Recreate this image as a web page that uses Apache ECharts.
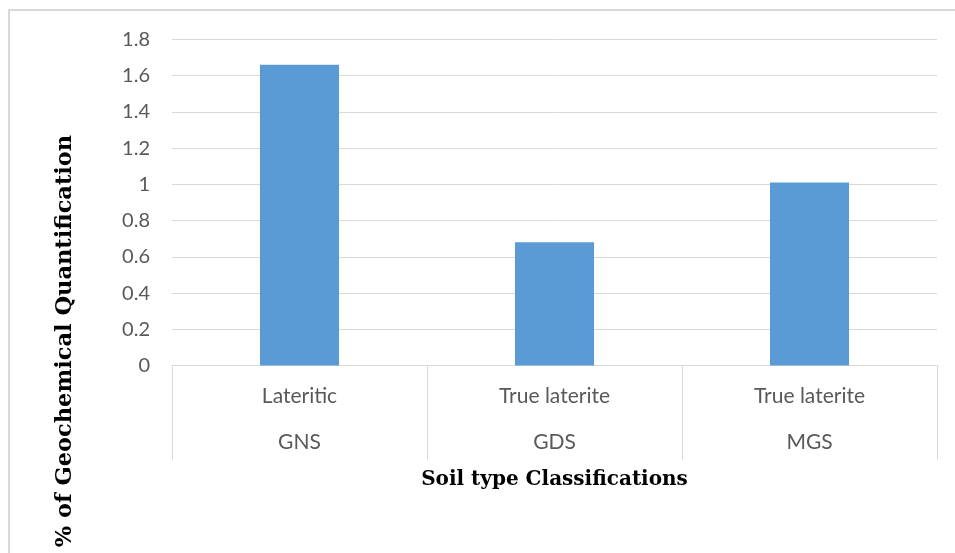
<!DOCTYPE html>
<html>
<head>
<meta charset="utf-8">
<script src="https://cdn.jsdelivr.net/npm/echarts@6/dist/echarts.min.js"></script>
<style>
  html, body { margin: 0; padding: 0; background: #ffffff; }
  #chart { width: 955px; height: 553px; }
</style>
</head>
<body>
<div id="chart"></div>
<script>
// Soil classification groups (upper label row) and sample codes (lower label row)
const soilTypes = ['Lateritic', 'True laterite', 'True laterite'];
const sampleCodes = ['GNS', 'GDS', 'MGS'];
// Geochemical quantification per sample (%)
const quantification = [1.66, 0.68, 1.01];
// Value axis range
const yMin = 0;
const yMax = 1.8;
const yStep = 0.2;

const gridColor = '#d9d9d9';
const labelColor = '#595959';
const labelFont = 'Lato, "Open Sans", sans-serif';
const titleFont = '"DejaVu Serif", serif';

const chart = echarts.init(document.getElementById('chart'), null, { renderer: 'canvas' });

chart.setOption({
  backgroundColor: '#ffffff',
  animation: false,
  grid: { left: 172, right: 18, top: 39.5, bottom: 187.5 },
  graphic: [
    {
      type: 'rect',
      shape: { x: 9, y: 10, width: 980, height: 600 },
      style: { fill: 'none', stroke: '#d9d9d9', lineWidth: 2 },
      silent: true
    },
    {
      type: 'text',
      x: 65,
      y: 341,
      rotation: Math.PI / 2,
      style: {
        text: '% of Geochemical Quantification',
        font: 'bold 22.5px ' + titleFont,
        fill: '#000000',
        align: 'center',
        verticalAlign: 'middle'
      }
    }
  ],
  xAxis: {
    type: 'category',
    data: sampleCodes,
    axisLine: { show: true, lineStyle: { color: gridColor, width: 1 } },
    axisTick: { show: true, length: 94, lineStyle: { color: gridColor, width: 1 } },
    axisLabel: {
      margin: 8,
      interval: 0,
      formatter: function (value, index) {
        return '{a|' + soilTypes[index] + '}\n{b|' + value + '}';
      },
      rich: {
        a: { fontFamily: labelFont, fontSize: 21, color: labelColor, lineHeight: 46 },
        b: { fontFamily: labelFont, fontSize: 21, color: labelColor, lineHeight: 46 }
      }
    },
    name: 'Soil type Classifications',
    nameLocation: 'middle',
    nameGap: 104,
    nameTextStyle: {
      fontFamily: titleFont,
      fontWeight: 'bold',
      fontSize: 20,
      color: '#000000'
    }
  },
  yAxis: {
    type: 'value',
    min: yMin,
    max: yMax,
    interval: yStep,
    axisLine: { show: false },
    axisTick: { show: false },
    axisLabel: {
      margin: 22,
      fontFamily: labelFont,
      fontSize: 20,
      color: labelColor,
      formatter: function (v) { return String(Math.round(v * 10) / 10); }
    },
    splitLine: { show: true, lineStyle: { color: gridColor, width: 1 } }
  },
  series: [
    {
      type: 'bar',
      data: quantification,
      barWidth: '31%',
      itemStyle: { color: '#5b9bd5' }
    }
  ]
});
</script>
</body>
</html>
